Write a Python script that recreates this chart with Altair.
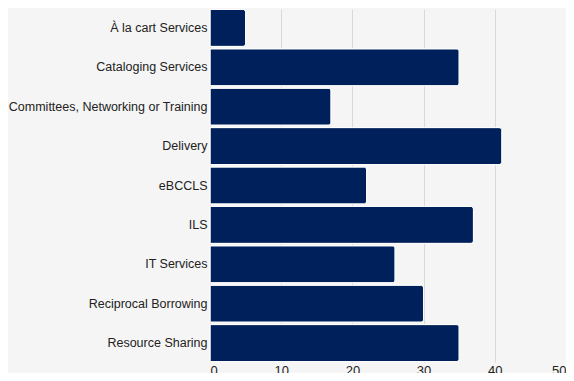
import altair as alt
import pandas as pd

categories = ["À la cart Services", "Cataloging Services", "Committees, Networking or Training",
              "Delivery", "eBCCLS", "ILS", "IT Services", "Reciprocal Borrowing", "Resource Sharing"]
values = [5, 35, 17, 41, 22, 37, 26, 30, 35]

df = pd.DataFrame({"category": categories, "value": values})

chart = alt.Chart(df).mark_bar(
    color="#00205b", stroke="white", strokeWidth=1, cornerRadiusEnd=3
).encode(
    y=alt.Y("category:N", sort=categories, title=None,
            scale=alt.Scale(paddingInner=0.06, paddingOuter=0.01),
            axis=alt.Axis(ticks=False, domain=False, labelFontSize=12.5, labelColor="#222",
                          labelFont="Liberation Sans", labelPadding=3, labelLimit=400)),
    x=alt.X("value:Q", title=None, scale=alt.Scale(domain=[0, 50]),
            axis=alt.Axis(values=[0, 10, 20, 30, 40, 50], ticks=False, domain=False,
                          labelFontSize=13, labelColor="#222", labelFont="Liberation Sans",
                          labelBaseline="top", gridColor="#d9d9d9", labelPadding=2))
).properties(
    width=356, height=353, background="#f5f5f5",
    autosize=alt.AutoSizeParams(type="none"),
    padding={"left": 202, "top": 1, "right": 0, "bottom": 11}
).configure_view(stroke=None, fill="#f5f5f5").configure_axisY(grid=False)

chart.save("out.html", embed_options={"renderer": "svg", "actions": False})
